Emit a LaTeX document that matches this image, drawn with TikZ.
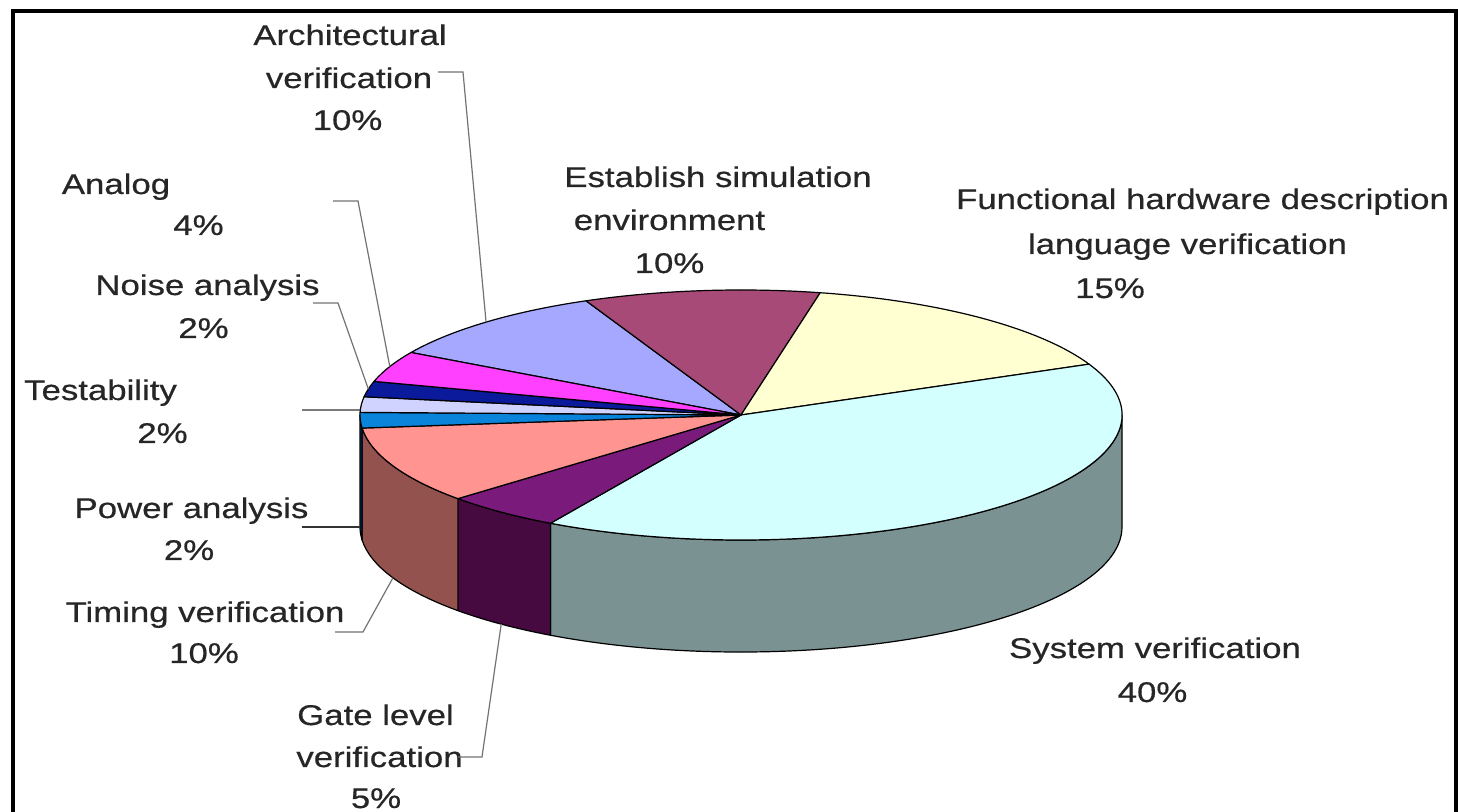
\documentclass[tikz,border=0pt]{standalone}
\usepackage{fontspec}
\setmainfont{Liberation Sans}
\newfontfamily\lblfont[FakeStretch=1.22,FakeBold=0.5]{Liberation Sans}
\usetikzlibrary{calc}

% slice colours (top face / side wall)
\definecolor{cArch}{HTML}{A6A8FF}
\definecolor{cEst}{HTML}{A84A78}
\definecolor{cFun}{HTML}{FFFFD2}
\definecolor{cSys}{HTML}{D4FFFF}
\definecolor{cSysW}{HTML}{7A9292}
\definecolor{cGate}{HTML}{7A1A7A}
\definecolor{cGateW}{HTML}{460A40}
\definecolor{cTim}{HTML}{FF9490}
\definecolor{cTimW}{HTML}{94524E}
\definecolor{cPow}{HTML}{0A84DA}
\definecolor{cPowW}{HTML}{00407A}
\definecolor{cTest}{HTML}{D0D2FF}
\definecolor{cNoise}{HTML}{0A1A9A}
\definecolor{cAna}{HTML}{FF40FF}

% top face of a slice: centre -> rim at #1, arc to #2
\newcommand\pieTop[3]{%
  \filldraw[slice, fill=#3] (C) -- ($(C)+(#1:381 and 125)$)
    arc[start angle=#1, end angle=#2, x radius=381, y radius=125] -- cycle;}
% visible side wall between angles #1 and #2
\newcommand\pieWall[3]{%
  \filldraw[slice, fill=#3] ($(C)+(#1:381 and 125)$)
    arc[start angle=#1, end angle=#2, x radius=381, y radius=125]
    -- ($(B)+(#2:381 and 125)$)
    arc[start angle=#2, end angle=#1, x radius=381, y radius=125] -- cycle;}

\begin{document}
\begin{tikzpicture}[x=0.5pt, y=0.5pt,
  lbl/.style={anchor=base, inner sep=0pt,
    font=\lblfont\fontsize{14.25}{17}\selectfont, text=black!85},
  leader/.style={draw=black!55, line width=0.6pt},
  leaderdark/.style={draw=black!80, line width=0.6pt},
  slice/.style={draw=black, line width=0.6pt, line join=round},
]
\clip (0,0) rectangle (1458,-812);
\fill[white] (0,0) rectangle (1458,-812);
\draw[line width=2pt] (13,-11.5) rectangle (1456,-900);

\coordinate (C) at (741,-415);
\coordinate (B) at (741,-527);

% side walls (front half only)
\pieWall{0}{-120}{cSysW}
\pieWall{-120}{-138}{cGateW}
\pieWall{-138}{-174}{cTimW}
\pieWall{-174}{-180}{cPowW}

% top faces, clockwise from 150 degrees
\pieTop{150}{114}{cArch}
\pieTop{114}{78}{cEst}
\pieTop{78}{24}{cFun}
\pieTop{24}{-120}{cSys}
\pieTop{-120}{-138}{cGate}
\pieTop{-138}{-174}{cTim}
\pieTop{-174}{-181.2}{cPow}
\pieTop{178.8}{171.6}{cTest}
\pieTop{171.6}{164.4}{cNoise}
\pieTop{164.4}{150}{cAna}

% labels
\node[lbl] (archA) at (350,-45) {Architectural};
\node[lbl] (archB) at (349,-88) {verification};
\node[lbl] (archC) at (347.5,-130) {10\%};
\node[lbl] (anaA) at (116,-194) {Analog};
\node[lbl] (anaB) at (198.5,-235) {4\%};
\node[lbl] (noiA) at (207.5,-295) {Noise analysis};
\node[lbl] (noiB) at (203.5,-338) {2\%};
\node[lbl] (tesA) at (100.5,-400) {Testability};
\node[lbl] (tesB) at (162.5,-443) {2\%};
\node[lbl] (powA) at (191.5,-518) {Power analysis};
\node[lbl] (powB) at (189,-560) {2\%};
\node[lbl] (timA) at (205,-622) {Timing verification};
\node[lbl] (timB) at (204,-663) {10\%};
\node[lbl] (gatA) at (375.5,-725) {Gate level};
\node[lbl] (gatB) at (379.5,-767) {verification};
\node[lbl] (gatC) at (376,-808) {5\%};
\node[lbl] (estA) at (718,-187) {Establish simulation};
\node[lbl] (estB) at (669.5,-230) {environment};
\node[lbl] (estC) at (669.5,-273) {10\%};
\node[lbl] (funA) at (1202.5,-209) {Functional hardware description};
\node[lbl] (funB) at (1187.5,-254) {language verification};
\node[lbl] (funC) at (1110,-298) {15\%};
\node[lbl] (sysA) at (1155,-658) {System verification};
\node[lbl] (sysB) at (1152.5,-702) {40\%};

% leader line end points
\coordinate (archS) at (438,-72);
\coordinate (anaS) at (333,-201);
\coordinate (noiS) at (313,-303);
\coordinate (tesS) at (302,-410);
\coordinate (powS) at (302,-527);
\coordinate (timS) at (335,-632);
\coordinate (gatS) at (458,-757);
\coordinate (archE) at ($(C)+(132:381 and 125)$);
\coordinate (anaE) at ($(C)+(157.2:381 and 125)$);
\coordinate (noiE) at ($(C)+(168:381 and 125)$);
\coordinate (tesE) at ($(C)+(177.7:381 and 125)$);
\coordinate (powE) at (360,-527);
\coordinate (timE) at ($(B)+(-156:381 and 125)$);
\coordinate (gatE) at ($(B)+(-129:381 and 125)$);

\draw[leader] (archS) -- ++(25,0) -- (archE);
\draw[leader] (anaS) -- ++(25,0) -- (anaE);
\draw[leader] (noiS) -- ++(25,0) -- (noiE);
\draw[leaderdark] (tesS) -- (tesE);
\draw[leaderdark] (powS) -- (powE);
\draw[leader] (timS) -- ++(28,0) -- (timE);
\draw[leader] (gatS) -- ++(24,0) -- (gatE);
\end{tikzpicture}
\end{document}
